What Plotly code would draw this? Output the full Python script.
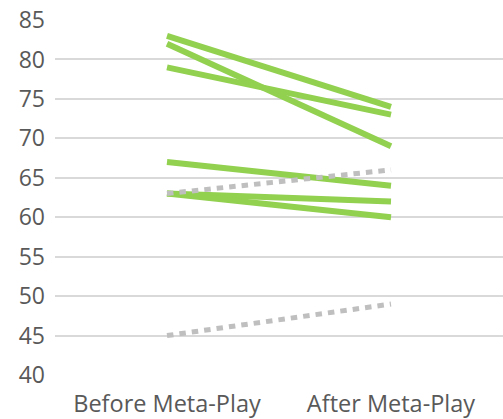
import plotly.graph_objects as go

categories = ["Before Meta-Play", "After Meta-Play"]
green_series = [
    [83, 74],
    [82, 69],
    [79, 73],
    [67, 64],
    [63, 62],
    [63, 60],
]
gray_series = [
    [63, 66],
    [45, 49],
]
y_ticks = [40, 45, 50, 55, 60, 65, 70, 75, 80, 85]

fig = go.Figure()
for s in green_series:
    fig.add_trace(go.Scatter(x=categories, y=s, mode="lines",
                             line=dict(color="#92d050", width=6), showlegend=False))
for s in gray_series:
    fig.add_trace(go.Scatter(x=categories, y=s, mode="lines",
                             line=dict(color="#bfbfbf", width=5, dash="6.5px,6px"),
                             showlegend=False))

fig.update_layout(
    width=503, height=419,
    margin=dict(l=55, r=0, t=20, b=42),
    paper_bgcolor="white", plot_bgcolor="white",
    font=dict(family="Open Sans", size=23, color="#595959"),
    xaxis=dict(range=[-0.5, 1.5], showgrid=False, zeroline=False, showline=False,
               ticklabelstandoff=12,
               tickfont=dict(size=23.5, color="#595959")),
    yaxis=dict(range=[40, 85], tickvals=y_ticks, showgrid=True, gridcolor="#d9d9d9",
               gridwidth=2, zeroline=False, showline=False, ticklabelstandoff=9,
               tickfont=dict(size=23, color="#595959")),
)
fig.write_html("out.html")
